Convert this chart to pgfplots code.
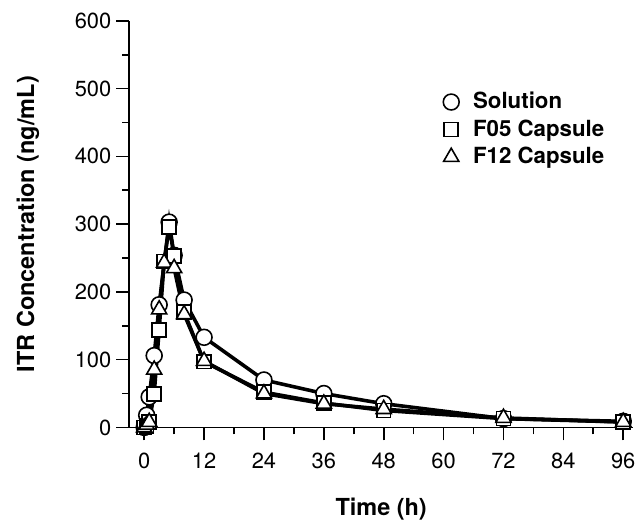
\documentclass[border=0pt]{standalone}
\usepackage{fontspec}
\setmainfont{TeX Gyre Heros}
\usepackage{pgfplots}
\pgfplotsset{compat=1.18}

\begin{document}
\begin{tikzpicture}
\begin{axis}[
    scale only axis,
    width=253.5pt, height=204.5pt,
    xmin=-3, xmax=98,
    ymin=0, ymax=600,
    axis x line=bottom, axis y line=left,
    axis line style={-, line width=0.8pt},
    xtick={0,12,...,96}, minor x tick num=1,
    ytick={0,100,...,600}, minor y tick num=1,
    tick align=outside,
    major tick length=6.5pt, minor tick length=3.5pt,
    tick style={black, line width=0.8pt},
    /pgf/number format/assume math mode=true,
    tick label style={font=\fontsize{11}{12}\selectfont},
    yticklabel style={xshift=1pt},
    xticklabel style={yshift=-2.8pt},
    xlabel={\textbf{Time (h)}},
    ylabel={\textbf{ITR Concentration (ng/mL)}},
    label style={font=\fontsize{11.8}{13}\selectfont},
    xlabel style={at={(axis description cs:0.5,0)}, anchor=center, yshift=-41pt},
    ylabel style={at={(axis description cs:0,0.5)}, anchor=center, yshift=51pt},
    clip=false,
    legend style={draw=none, fill=none, at={(0.6105,0.845)}, anchor=north west,
        font=\fontsize{11.2}{12}\selectfont\bfseries, row sep=0pt,
        column sep=2.5pt, legend cell align=left,
        nodes={inner xsep=4.5pt}},
]
% Solution
\addplot[forget plot, black, line width=1.8pt, mark=*, mark size=4pt,
    mark options={solid, fill=white, draw=black, line width=0.8pt}] coordinates {
    (0,0) (0.5,18) (1,45) (2,106) (3,181) (5,303) (6,254) (8,188)
    (12,133) (24,70) (36,50) (48,35) (72,13) (96,9)
};
% F05 capsule
\addplot[forget plot, black, line width=1.8pt, mark=square*, mark size=3.5pt,
    mark options={solid, fill=white, draw=black, line width=0.8pt}] coordinates {
    (0,0) (0.5,2) (1,8) (2,49) (3,144) (4,245) (5,296) (6,253) (8,170)
    (12,97) (24,52) (36,36) (48,25) (72,13) (96,8)
};
% F12 capsule
\addplot[forget plot, black, line width=1.8pt, mark=triangle*, mark size=4.4pt,
    mark options={solid, fill=white, draw=black, line width=0.8pt}] coordinates {
    (0,0) (0.5,4) (1,8) (2,85) (3,174) (4,243) (6,235) (8,167)
    (12,98) (24,50) (36,35) (48,27) (72,14) (96,8)
};
\addlegendimage{only marks, black, mark=*, mark size=4pt,
    mark options={fill=white, draw=black, line width=0.8pt}}
\addlegendentry{Solution}
\addlegendimage{only marks, black, mark=square*, mark size=3.5pt,
    mark options={fill=white, draw=black, line width=0.8pt}}
\addlegendentry{F05 Capsule}
\addlegendimage{only marks, black, mark=triangle*, mark size=4.4pt,
    mark options={fill=white, draw=black, line width=0.8pt}}
\addlegendentry{F12 Capsule}
\end{axis}
\path (current axis.south west) ++(-65pt,-47pt) coordinate (bbA);
\path (current axis.north east) ++(2.5pt,10.5pt) coordinate (bbB);
\path (bbA) -- (bbB);
\end{tikzpicture}
\end{document}
